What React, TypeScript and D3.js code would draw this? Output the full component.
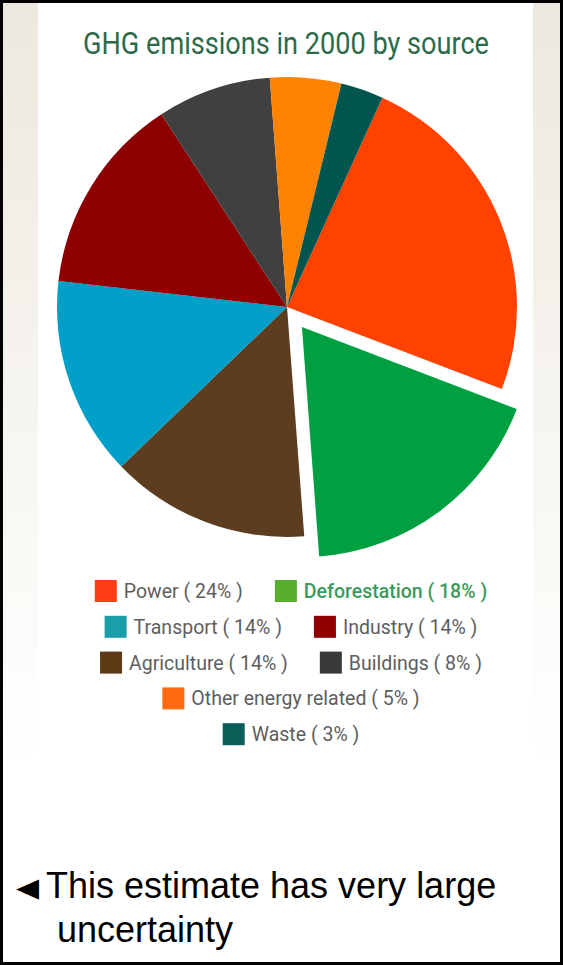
import React, { useEffect, useRef } from 'react';
import * as d3 from 'd3';

// Categories in pie order (clockwise from the top-right)
const categories = [
  'Power',
  'Deforestation',
  'Agriculture',
  'Transport',
  'Industry',
  'Buildings',
  'Other energy related',
  'Waste',
];
const shares = [24, 18, 14, 14, 14, 8, 5, 3];
const sliceColors = ['#ff4200', '#00a042', '#5c3d1f', '#009fc8', '#8e0000', '#404040', '#ff8200', '#00564f'];
const swatchColors = ['#ff3d14', '#58ad2f', '#5e3a16', '#1a9eaa', '#900000', '#3a3a3a', '#ff6a10', '#0a5e58'];
const explodedCategory = 'Deforestation';
const legendRows = [
  ['Power', 'Deforestation'],
  ['Transport', 'Industry'],
  ['Agriculture', 'Buildings'],
  ['Other energy related'],
  ['Waste'],
];
const titleText = 'GHG emissions in 2000 by source';
const noteLines = ['This estimate has very large', 'uncertainty'];

export default function App() {
  const svgRef = useRef<SVGSVGElement>(null);

  useEffect(() => {
    if (!svgRef.current) return;
    const svg = d3.select(svgRef.current);
    svg.selectAll('*').remove();

    const W = 563;
    const H = 965;

    // background with the faded beige side strips
    const defs = svg.append('defs');
    const grad = defs
      .append('linearGradient')
      .attr('id', 'bg-fade')
      .attr('x1', 0)
      .attr('y1', 0)
      .attr('x2', 0)
      .attr('y2', 1);
    grad.append('stop').attr('offset', '0%').attr('stop-color', '#ece8df');
    grad.append('stop').attr('offset', '55%').attr('stop-color', '#f7f5f0');
    grad.append('stop').attr('offset', '100%').attr('stop-color', '#ffffff');

    svg.append('rect').attr('width', W).attr('height', H).attr('fill', '#fff');
    svg.append('rect').attr('x', 3).attr('y', 3).attr('width', 35).attr('height', 760).attr('fill', 'url(#bg-fade)');
    svg.append('rect').attr('x', 533).attr('y', 3).attr('width', 27).attr('height', 760).attr('fill', 'url(#bg-fade)');

    // title
    svg
      .append('text')
      .attr('x', 286)
      .attr('y', 54)
      .attr('text-anchor', 'middle')
      .attr('font-family', 'Roboto, sans-serif')
      .attr('font-size', 31)
      .attr('fill', '#2c6b4a')
      .attr('textLength', 406)
      .attr('lengthAdjust', 'spacingAndGlyphs')
      .text(titleText);

    // pie
    const cx = 287;
    const cy = 307;
    const radius = 230;
    const explode = 25;
    const start = (24.5 * Math.PI) / 180;
    const pie = d3
      .pie<number>()
      .sort(null)
      .value(d => d)
      .startAngle(start)
      .endAngle(start + 2 * Math.PI);
    const arcs = pie(shares);
    const arc = d3.arc<d3.PieArcDatum<number>>().innerRadius(0).outerRadius(radius);

    const g = svg.append('g').attr('transform', `translate(${cx},${cy})`);
    g.selectAll('path.slice')
      .data(arcs)
      .enter()
      .append('path')
      .attr('class', 'slice')
      .attr('d', arc)
      .attr('fill', (d, i) => sliceColors[i])
      .attr('transform', (d, i) => {
        if (categories[i] !== explodedCategory) return null;
        const mid = (d.startAngle + d.endAngle) / 2;
        return `translate(${explode * Math.sin(mid)},${-explode * Math.cos(mid)})`;
      });

    // legend, each row centred
    const legendCenter = 291;
    const rowTop = 591;
    const rowStep = 35.8;
    const sw = 22;
    const textGap = 7;
    const itemGap = 32;

    legendRows.forEach((row, r) => {
      const rowG = svg.append('g');
      const y = rowTop + r * rowStep;
      const items = row.map(name => {
        const i = categories.indexOf(name);
        const itemG = rowG.append('g');
        itemG
          .append('rect')
          .attr('x', 0)
          .attr('y', y - sw / 2)
          .attr('width', sw)
          .attr('height', sw)
          .attr('fill', swatchColors[i]);
        const isHi = name === explodedCategory;
        const t = itemG
          .append('text')
          .attr('x', sw + textGap)
          .attr('y', y + 7)
          .attr('font-family', 'Roboto, sans-serif')
          .attr('font-size', 19.5)
          .attr('font-weight', isHi ? 500 : 400)
          .attr('fill', isHi ? '#3a9a5e' : '#5e5e5e')
          .text(`${name} ( ${shares[i]}% )`);
        const tw = (t.node() as SVGTextElement).getComputedTextLength();
        return { itemG, width: sw + textGap + tw };
      });
      const total = d3.sum(items, d => d.width) + itemGap * (items.length - 1);
      let x = legendCenter - total / 2;
      items.forEach(it => {
        it.itemG.attr('transform', `translate(${x},0)`);
        x += it.width + itemGap;
      });
    });

    // bottom note
    svg
      .append('text')
      .attr('transform', 'translate(16,900) scale(1,1.35)')
      .attr('font-family', '"DejaVu Sans", sans-serif')
      .attr('font-size', 30)
      .attr('fill', '#000')
      .text('\u25C4');
    noteLines.forEach((line, i) => {
      svg
        .append('text')
        .attr('x', i === 0 ? 46 : 57)
        .attr('y', 898 + i * 44)
        .attr('font-family', '"Liberation Sans", Arial, sans-serif')
        .attr('font-size', 36)
        .attr('fill', '#000')
        .text(line);
    });

    // frame
    svg
      .append('rect')
      .attr('x', 1.5)
      .attr('y', 1.5)
      .attr('width', W - 3)
      .attr('height', H - 3)
      .attr('fill', 'none')
      .attr('stroke', '#000')
      .attr('stroke-width', 3);
  }, []);

  return (
    <svg
      ref={svgRef}
      width={563}
      height={965}
      style={{ position: 'absolute', left: 0, top: 0, display: 'block' }}
    />
  );
}
